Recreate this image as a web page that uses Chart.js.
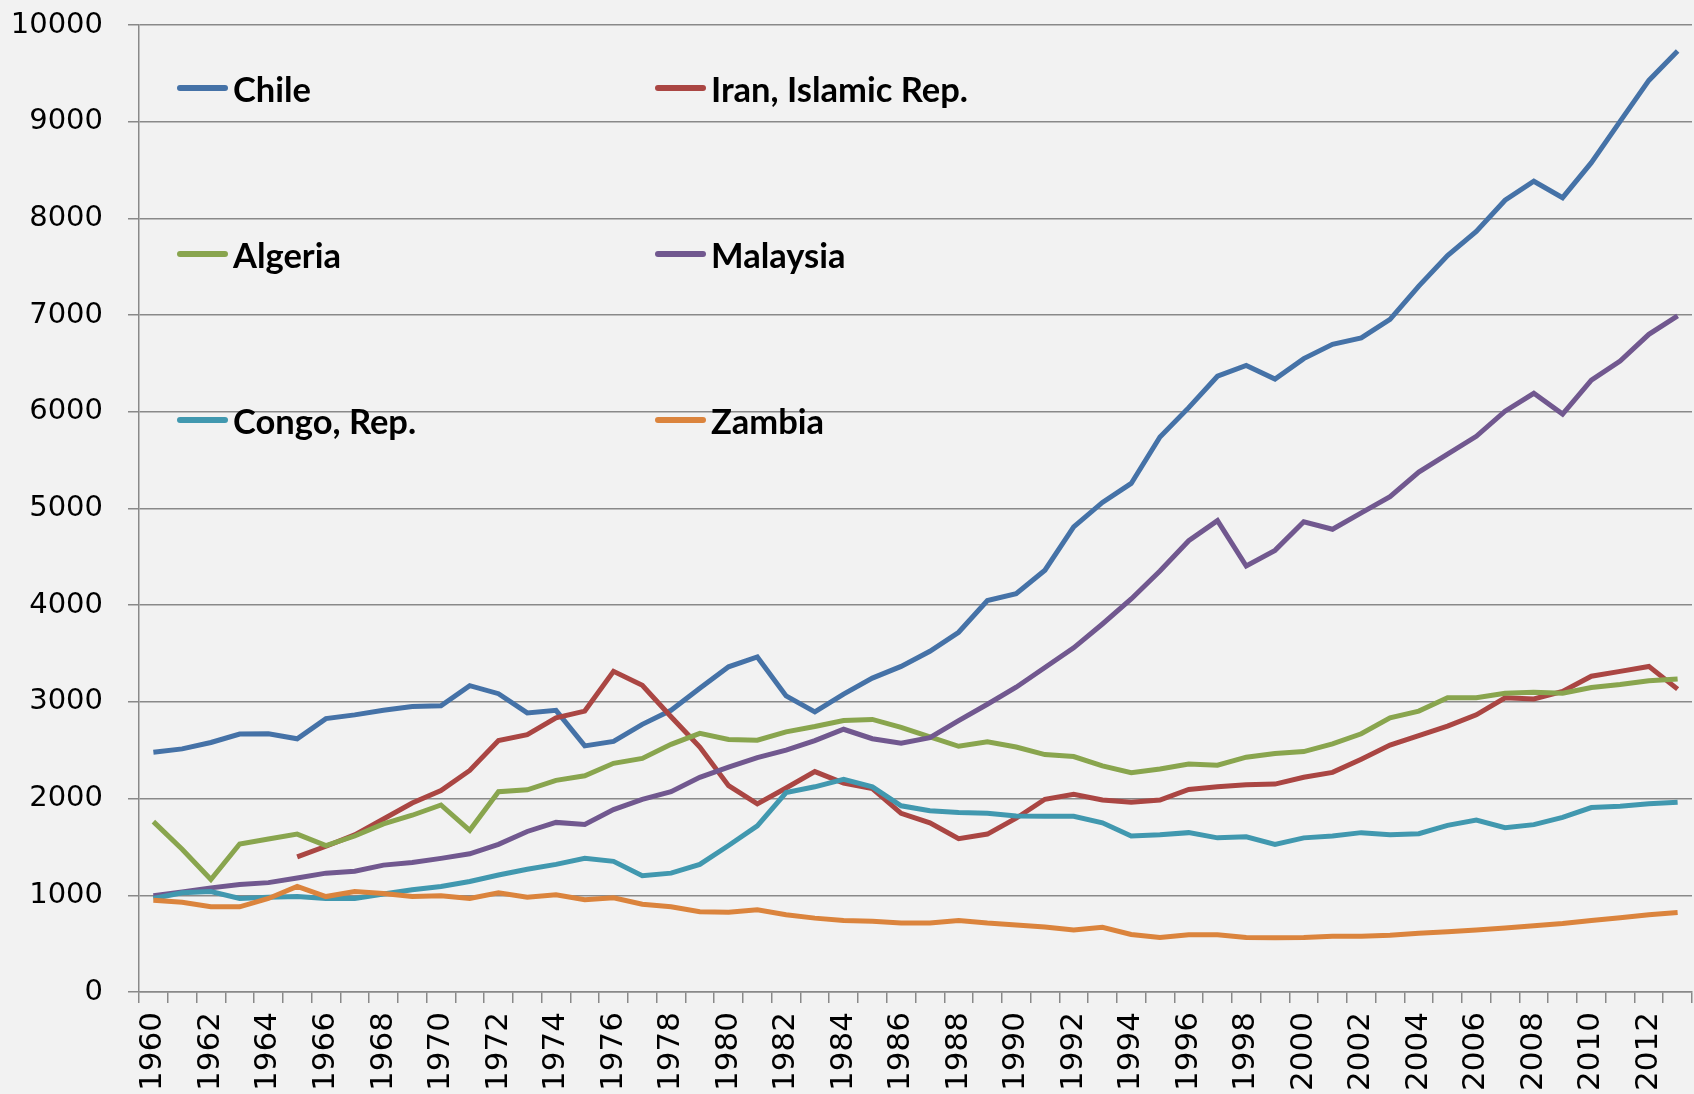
<!DOCTYPE html>
<html><head><meta charset="UTF-8">
<title>GDP per capita</title>
<script src="https://cdn.jsdelivr.net/npm/chart.js"></script>
<style>
  body{margin:0;background:#f2f2f2;font-family:Lato,"Open Sans",sans-serif}
  #wrap{position:relative;width:1694px;height:1094px}
  .lg{position:absolute;display:flex;align-items:center;height:40px;font-weight:bold;font-size:34.5px;color:#000;white-space:nowrap}
  .lg span{display:inline-block;width:51px;height:6px;border-radius:3px;margin-right:5px}
</style>
</head><body>
<div id="wrap"><canvas id="chart"></canvas></div>
<script>
  const years = [];
  for (let y = 1960; y <= 2013; y++) years.push(String(y));

  const chile = [2480,2514,2580,2667,2670,2619,2827,2866,2913,2952,
    2960,3168,3085,2886,2913,2545,2592,2768,2913,3140,
    3363,3465,3062,2897,3081,3246,3367,3524,3720,4049,
    4119,4362,4810,5063,5259,5740,6043,6368,6479,6339,
    6550,6698,6764,6956,7300,7615,7866,8188,8384,8214,
    8576,9004,9427,9730];
  const iran = [null,null,null,null,null,1398,1507,1625,1789,1954,
    2083,2291,2600,2662,2835,2905,3316,3171,2846,2533,
    2134,1946,2110,2279,2161,2103,1848,1750,1586,1633,
    1797,1993,2044,1985,1962,1985,2095,2122,2142,2150,
    2220,2271,2408,2553,2651,2749,2866,3042,3031,3109,
    3266,3316,3367,3132];
  const algeria = [1762,1476,1163,1531,1582,1633,1515,1613,1738,1828,
    1934,1672,2071,2091,2189,2236,2365,2416,2561,2674,
    2612,2604,2690,2745,2807,2819,2737,2639,2541,2588,
    2533,2455,2435,2338,2267,2306,2357,2345,2428,2467,
    2486,2565,2670,2835,2905,3042,3042,3089,3101,3089,
    3148,3179,3218,3238];
  const malaysia = [995,1034,1077,1112,1131,1179,1229,1249,1312,1339,
    1382,1429,1527,1660,1754,1733,1887,1993,2071,2220,
    2326,2424,2502,2600,2717,2619,2572,2631,2807,2976,
    3152,3356,3559,3806,4064,4354,4667,4875,4405,4567,
    4862,4785,4955,5123,5377,5562,5747,6006,6191,5976,
    6328,6524,6801,6993];
  const congo = [967,1026,1038,967,979,987,967,967,1014,1057,
    1092,1143,1210,1269,1320,1382,1351,1202,1229,1320,
    1515,1719,2063,2122,2200,2122,1926,1875,1856,1848,
    1821,1817,1817,1750,1613,1625,1648,1594,1605,1527,
    1594,1613,1648,1625,1637,1723,1778,1699,1731,1805,
    1907,1922,1946,1962];
  const zambia = [948,928,881,881,967,1092,987,1038,1018,987,
    995,967,1026,979,1006,955,975,908,881,830,
    826,850,799,764,740,732,713,713,740,713,
    693,673,642,670,595,564,591,591,564,560,
    564,576,576,587,607,623,642,662,685,709,
    740,767,799,822];

  const names = ["Chile","Iran, Islamic Rep.","Algeria","Malaysia","Congo, Rep.","Zambia"];
  const series = [chile, iran, algeria, malaysia, congo, zambia];
  const colors = ["#4572a7","#aa4643","#89a54e","#71588f","#4198af","#db843d"];
  const yTicks = [0,1000,2000,3000,4000,5000,6000,7000,8000,9000,10000];

  // legend spots (left of the swatch, middle of the row)
  const legendPos = [[177,88],[655,88],[177,254],[655,254],[177,420],[655,420]];

  const grey = "#898989";

  new Chart(document.getElementById("chart"), {
    type: "line",
    data: {
      labels: years,
      datasets: series.map((d, i) => ({
        label: names[i], data: d, borderColor: colors[i], backgroundColor: colors[i],
        borderWidth: 5, pointRadius: 0, tension: 0, spanGaps: false, order: 5 - i
      }))
    },
    options: {
      responsive: true, maintainAspectRatio: false, animation: false,
      layout: {padding: {top: 25, right: 2, left: 0, bottom: 0}},
      plugins: {legend: {display: false}, tooltip: {enabled: false}},
      scales: {
        x: {
          offset: true,
          grid: {offset: true, drawOnChartArea: false, drawTicks: true, tickLength: 11, color: grey, lineWidth: 1.5},
          border: {display: true, color: grey, width: 1.5},
          ticks: {autoSkip: false, maxRotation: 90, minRotation: 90, padding: 9, color: "#000",
            font: {family: "DejaVu Sans", size: 31},
            callback: function (v, i) { return i % 2 === 0 ? years[i] : ""; }},
          afterFit: s => { s.height = 102; s.paddingLeft = 0; s.paddingRight = 0; }
        },
        y: {
          min: 0, max: 10000,
          afterBuildTicks: s => { s.ticks = yTicks.map(v => ({value: v})); },
          grid: {color: grey, lineWidth: 1.5, tickLength: 11},
          border: {display: true, color: grey, width: 1.5},
          ticks: {padding: 25, color: "#000", font: {family: "DejaVu Sans", size: 29},
            callback: v => String(v)},
          afterFit: s => { s.width = 139; s.paddingTop = 0; s.paddingBottom = 0; }
        }
      }
    }
  });

  const wrap = document.getElementById("wrap");
  names.forEach((n, i) => {
    const el = document.createElement("div");
    el.className = "lg";
    el.style.left = legendPos[i][0] + "px";
    el.style.top = (legendPos[i][1] - 20) + "px";
    el.innerHTML = '<span style="background:' + colors[i] + '"></span>' + n;
    wrap.appendChild(el);
  });
</script>
</body></html>
